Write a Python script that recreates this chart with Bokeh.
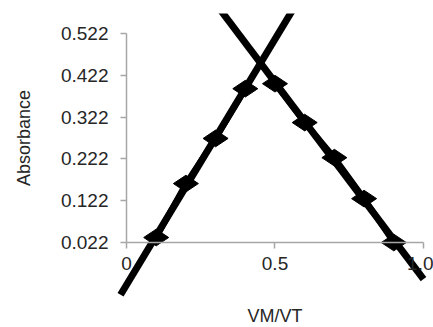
import numpy as np
from bokeh.plotting import figure
from bokeh.models import LinearAxis, FixedTicker, Range1d, PrintfTickFormatter
from bokeh.embed import file_html
from bokeh.resources import INLINE

# Data (Job's plot)
up_x = [0.1, 0.2, 0.3, 0.4]
up_y = [0.034, 0.163, 0.271, 0.390]
down_x = [0.5, 0.6, 0.7, 0.8, 0.9]
down_y = [0.402, 0.309, 0.225, 0.127, 0.022]
y_ticks = [0.022, 0.122, 0.222, 0.322, 0.422, 0.522]
x_ticks = [0, 0.5, 1]
x_tick_labels = ["0", "0.5", "1.0"]
# extent of the linear trendlines (forecast beyond the data)
up_trend_extent = [-0.02, 0.65]
down_trend_extent = [0.25, 1.0]

FONT = "Liberation Sans"
TXT = "#262626"
AX = "#a6a6a6"

p = figure(width=433, height=327, output_backend="svg", toolbar_location=None,
           x_range=Range1d(-0.4242, 1.0337), y_range=Range1d(-0.1813, 0.5699),
           x_axis_type=None, y_axis_type=None, min_border=0, min_border_top=13)
p.outline_line_color = None
p.background_fill_color = "white"
p.border_fill_color = "white"

# trendlines from a least squares fit of each branch
for xs, ys, ext in ((up_x, up_y, up_trend_extent), (down_x, down_y, down_trend_extent)):
    m, b = np.polyfit(xs, ys, 1)
    tx = np.array(ext)
    p.line(tx, m * tx + b, line_color="black", line_width=7)
    p.line(xs, ys, line_color="black", line_width=6)
    p.scatter(xs, ys, marker="diamond", size=25, angle=np.pi / 2,
              fill_color="black", line_color="black")

xaxis = LinearAxis(fixed_location=0.022, ticker=FixedTicker(ticks=x_ticks), bounds=(0, 1),
                   major_label_overrides={t: l for t, l in zip(x_ticks, x_tick_labels)},
                   axis_label="VM/VT")
yaxis = LinearAxis(fixed_location=0, ticker=FixedTicker(ticks=y_ticks), bounds=(0.022, 0.522),
                   formatter=PrintfTickFormatter(format="%.3f"), axis_label="Absorbance")
for ax in (xaxis, yaxis):
    ax.axis_line_color = AX
    ax.axis_line_width = 1.5
    ax.major_tick_line_color = AX
    ax.major_tick_line_width = 1.5
    ax.major_tick_in = 0
    ax.major_tick_out = 6
    ax.minor_tick_line_color = None
    ax.major_label_text_font = FONT
    ax.major_label_text_font_size = "19px"
    ax.major_label_text_color = TXT
    ax.axis_label_text_font = FONT
    ax.axis_label_text_font_size = "18px"
    ax.axis_label_text_font_style = "normal"
    ax.axis_label_text_color = TXT
xaxis.major_label_standoff = 8
xaxis.axis_label_standoff = 33
yaxis.major_label_standoff = 12
yaxis.axis_label_standoff = 24
p.add_layout(xaxis, "below")
p.add_layout(yaxis, "left")

open("out.html", "w").write(file_html(p, INLINE))
